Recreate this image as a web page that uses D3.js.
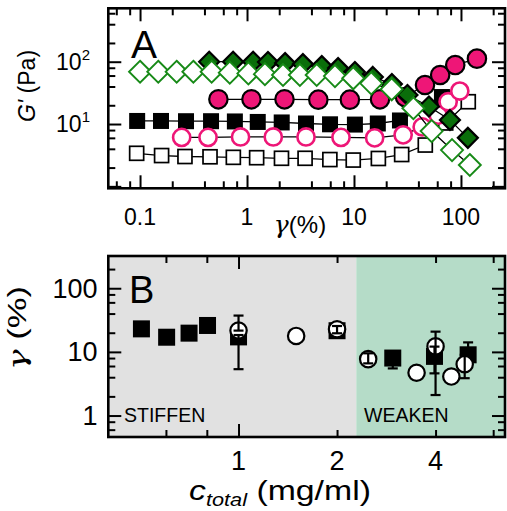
<!DOCTYPE html>
<html><head><meta charset="utf-8">
<script src="https://cdn.jsdelivr.net/npm/d3@7"></script>
<style>
html,body{margin:0;padding:0;background:#fff}
svg{display:block}
text{font-family:"Liberation Sans",Arial,Helvetica,sans-serif;fill:#000}
</style>
</head><body>
<svg id="c" width="507" height="511"></svg>
<script>
// ---------------- Panel A : G' (Pa) vs strain gamma (%) ----------------
const aOpenSqX   = [0.093,0.159,0.263,0.451,0.745,1.23,2.10,3.49,5.95,9.84,16.9,27.9,46.4,72.0,117];
const aOpenSqY   = [3.39,3.12,3.01,2.98,2.92,2.88,2.82,2.82,2.69,2.64,2.80,3.24,4.6,10.4,22.8];
const aFillSqX   = [0.094,0.157,0.269,0.461,0.77,1.26,2.11,3.56,5.97,10.2,16.7,26.9,66.4];
const aFillSqY   = [11.2,11.2,11.1,11.1,11.0,10.8,10.6,10.2,9.9,9.8,10.2,11.4,27.1];
const aOpenCirX  = [0.245,0.432,0.870,1.76,3.56,7.56,15.6,28.8,43.4,61.3,75.9,97.5];
const aOpenCirY  = [6.1,6.1,6.2,6.2,6.2,6.1,6.0,6.7,9.0,13.9,22.8,33.8];
const aFillCirX  = [0.54,1.10,2.24,4.64,9.15,17.5,30.0,46.1,63.9,88.4,141];
const aFillCirY  = [24.9,24.9,24.9,24.6,24.6,24.9,27.1,42.3,61.2,88.5,112];
const aFillDiaX  = [0.443,0.741,1.14,1.57,2.27,3.33,5.0,7.1,10.2,15.0,22.6,31.6,50.2,78.9,116];
const aFillDiaY  = [100,100,100,99,95,91.5,85,79,68.5,57,43.9,29.2,19.1,11.6,6.0];
const aOpenDiaX  = [0.1,0.148,0.220,0.315,0.467,0.69,1.03,1.47,2.17,3.12,4.48,6.64,9.84,14.5,22.5,35.9,53.2,82.5,121];
const aOpenDiaY  = [69,69,69,69,69,66.7,65,63.2,61.3,61.3,61.3,58.8,54.2,45.0,36.1,17.9,7.7,3.82,2.20];
const aXTicks    = [0.1,1,10,100];
const aXTickText = ["0.1","1","10","100"];
const aYTicks    = [10,100];
const aYTickExp  = ["1","2"];

// ---------------- Panel B : gamma (%) vs c_total (mg/ml) ----------------
const bSqC    = [0.505,0.603,0.706,0.804,1.0,2.0,2.96,3.97,5.03];
const bSqG    = [23.0,17.0,19.7,26.0,17.2,21.5,8.0,8.5,9.0];
const bSqLo   = [23.0,17.0,19.7,26.0,5.35,21.5,5.5,4.6,9.0];
const bSqHi   = [23.0,17.0,19.7,26.0,18.4,21.5,8.0,12.1,14.1];
const bCirC   = [1.0,1.50,2.0,2.49,3.5,4.0,4.47,4.91];
const bCirG   = [21.6,17.8,22.7,7.7,4.7,12.2,4.1,6.4];
const bCirLo  = [21.6,17.8,19.6,6.6,4.7,2.1,4.1,3.86];
const bCirHi  = [37.2,17.8,25.5,9.5,4.7,20.8,4.1,9.0];
const bXTicks = [1,2,4];
const bYTicks = [1,10,100];
const bBoundary = 2.29;   // stiffen / weaken transition (mg/ml)

// ---------------- layout ----------------
const svg = d3.select("#c");
const L = 108.3, R = 505;
const A = {t: 8.3, b: 188.3};
const B = {t: 256, b: 437};
const pink = "#ee1677", green = "#178a17", dgreen = "#0a6e0a";
const FS = 23, FSB = 27;

const xA = d3.scaleLog().domain([0.0505, 258]).range([L, R]);
const yA = d3.scaleLog().domain([0.93, 720]).range([A.b, A.t]);
const xB = d3.scaleLog().domain([0.40, 6.52]).range([L, R]);
const yB = d3.scaleLog().domain([0.46, 321]).range([B.b, B.t]);

function minorTicks(scale, mults) {
  const [d0, d1] = scale.domain();
  const out = [];
  for (let e = Math.floor(Math.log10(d0)); e <= Math.ceil(Math.log10(d1)); e++) {
    mults.forEach(m => { const v = m * Math.pow(10, e); if (v > d0 && v < d1) out.push(v); });
  }
  return out;
}
function decades(scale) {
  const [d0, d1] = scale.domain();
  const out = [];
  for (let e = Math.floor(Math.log10(d0)); e <= Math.ceil(Math.log10(d1)); e++) {
    const v = Math.pow(10, e); if (v > d0 && v < d1) out.push(v);
  }
  return out;
}
function frameAxes(x, y, box) {
  const g = svg.append("g");
  const maj = 13, mn = 7;
  const xMaj = decades(x), xMin = minorTicks(x, [2,4,6,8]);
  const yMaj = decades(y), yMin = minorTicks(y, [2,4,6,8]);
  const add = (axis, tr) => {
    const a = g.append("g").attr("transform", tr).call(axis);
    a.select(".domain").remove();
    a.selectAll("line").attr("stroke", "#000").attr("stroke-width", 2);
  };
  [[xMaj, maj], [xMin, mn]].forEach(([vals, s]) => {
    add(d3.axisBottom(x).tickValues(vals).tickSize(-s).tickFormat(""), `translate(0,${box.b})`);
    add(d3.axisTop(x).tickValues(vals).tickSize(-s).tickFormat(""), `translate(0,${box.t})`);
  });
  [[yMaj, maj], [yMin, mn]].forEach(([vals, s]) => {
    add(d3.axisLeft(y).tickValues(vals).tickSize(-s).tickFormat(""), `translate(${L},0)`);
    add(d3.axisRight(y).tickValues(vals).tickSize(-s).tickFormat(""), `translate(${R},0)`);
  });
  g.append("rect").attr("x", L).attr("y", box.t).attr("width", R - L).attr("height", box.b - box.t)
    .attr("fill", "none").attr("stroke", "#000").attr("stroke-width", 2.6);
}
// stretch a text element (anchored at its own origin) along its baseline to a target length
function stretchTo(t, target, base) {
  const w = t.node().getBBox().width;
  t.attr("transform", `${base} scale(${target / w},1)`);
}

// ---------------- Panel B background ----------------
svg.append("rect").attr("x", L).attr("y", B.t).attr("width", xB(bBoundary) - L).attr("height", B.b - B.t).attr("fill", "#e1e1e1");
svg.append("rect").attr("x", xB(bBoundary)).attr("y", B.t).attr("width", R - xB(bBoundary)).attr("height", B.b - B.t).attr("fill", "#b5dcc8");

// ---------------- Panel A marks ----------------
const gA = svg.append("g");
const line = (xs, ys) => d3.line().x((d, i) => xA(xs[i])).y((d, i) => yA(ys[i]))(xs);
function series(xs, ys, drawMark) {
  gA.append("path").attr("d", line(xs, ys)).attr("fill", "none").attr("stroke", "#000").attr("stroke-width", 1.3);
  xs.forEach((v, i) => drawMark(gA, xA(v), yA(ys[i])));
}
const sq = (g, cx, cy, s, fill, stroke, sw) => g.append("rect").attr("x", cx - s/2).attr("y", cy - s/2).attr("width", s).attr("height", s)
  .attr("fill", fill).attr("stroke", stroke).attr("stroke-width", sw);
const cir = (g, cx, cy, r, fill, stroke, sw) => g.append("circle").attr("cx", cx).attr("cy", cy).attr("r", r)
  .attr("fill", fill).attr("stroke", stroke).attr("stroke-width", sw);
const dia = (g, cx, cy, h, fill, stroke, sw) => g.append("path")
  .attr("d", `M${cx},${cy-h}L${cx+h},${cy}L${cx},${cy+h}L${cx-h},${cy}Z`)
  .attr("fill", fill).attr("stroke", stroke).attr("stroke-width", sw);

series(aOpenSqX, aOpenSqY, (g, x, y) => sq(g, x, y, 14, "#fff", "#000", 1.7));
series(aFillSqX, aFillSqY, (g, x, y) => sq(g, x, y, 16, "#000", "#000", 0));
series(aOpenCirX, aOpenCirY, (g, x, y) => cir(g, x, y, 8.6, "#fff", pink, 2.6));
series(aFillCirX, aFillCirY, (g, x, y) => cir(g, x, y, 9.2, pink, "#000", 2.2));
series(aFillDiaX, aFillDiaY, (g, x, y) => dia(g, x, y, 10, dgreen, "#000", 2.2));
series(aOpenDiaX, aOpenDiaY, (g, x, y) => dia(g, x, y, 11, "#fff", green, 1.9));

frameAxes(xA, yA, A);

// Panel A labels
svg.append("text").attr("x", 131).attr("y", 58).attr("font-size", 39).text("A");
aXTicks.forEach((v, i) => svg.append("text").attr("x", xA(v)).attr("y", 225).attr("text-anchor", "middle")
  .attr("font-size", FS).text(aXTickText[i]));
aYTicks.forEach((v, i) => {
  const t = svg.append("text").attr("x", 90).attr("y", yA(v) + 8.3).attr("text-anchor", "end").attr("font-size", FS);
  t.append("tspan").text("10");
  t.append("tspan").attr("font-size", 15).attr("dy", -10).text(aYTickExp[i]);
});
{
  const t = svg.append("text").attr("transform", "translate(35,86) rotate(-90)").attr("text-anchor", "middle").attr("font-size", FS);
  t.append("tspan").attr("font-style", "italic").text("G'");
  t.append("tspan").text(" (Pa)");
}
{
  const t = svg.append("text").attr("x", 300).attr("y", 233).attr("text-anchor", "middle").attr("font-size", 24);
  t.append("tspan").attr("font-style", "italic").attr("font-family", "DejaVu Serif").attr("font-size", 25).text("γ");
  t.append("tspan").text("(%)");
}

// ---------------- Panel B marks ----------------
const gB = svg.append("g");
bSqC.forEach((c, i) => sq(gB, xB(c), yB(bSqG[i]), 17, "#000", "#000", 0));
bCirC.forEach((c, i) => cir(gB, xB(c), yB(bCirG[i]), 8.2, "#fff", "#000", 2.2));
function errBars(cs, lo, hi) {
  cs.forEach((c, i) => {
    if (lo[i] === hi[i]) return;
    const x = xB(c), y0 = yB(lo[i]), y1 = yB(hi[i]);
    gB.append("line").attr("x1", x).attr("x2", x).attr("y1", y0).attr("y2", y1).attr("stroke", "#000").attr("stroke-width", 2.2);
    [y0, y1].forEach(yy => gB.append("line").attr("x1", x - 5).attr("x2", x + 5).attr("y1", yy).attr("y2", yy)
      .attr("stroke", "#000").attr("stroke-width", 2.2));
  });
}
errBars(bCirC, bCirLo, bCirHi);
errBars(bSqC, bSqLo, bSqHi);

frameAxes(xB, yB, B);

svg.append("text").attr("x", 129).attr("y", 303).attr("font-size", 38).text("B");
svg.append("text").attr("x", 124).attr("y", 421.5).attr("font-size", 19.5).attr("fill", "#111").text("STIFFEN");
svg.append("text").attr("x", 364).attr("y", 422).attr("font-size", 19.5).attr("fill", "#111").text("WEAKEN");
bXTicks.forEach(v => svg.append("text").attr("x", xB(v)).attr("y", 470).attr("text-anchor", "middle").attr("font-size", FSB).text(v));
bYTicks.forEach(v => svg.append("text").attr("x", 97.5).attr("y", yB(v) + 9.6).attr("text-anchor", "end").attr("font-size", FSB).text(v));
{
  const t = svg.append("text").attr("text-anchor", "middle").attr("font-size", 25);
  t.append("tspan").attr("font-style", "italic").attr("font-family", "DejaVu Serif").text("γ");
  t.append("tspan").text(" (%)");
  stretchTo(t, 84, "translate(26,328) rotate(-90)");
}
{
  const t = svg.append("text").attr("text-anchor", "middle").attr("font-size", 28);
  t.append("tspan").attr("font-style", "italic").text("c");
  t.append("tspan").attr("font-style", "italic").attr("font-size", 18).attr("dy", 6).text("total");
  t.append("tspan").attr("dy", -6).text(" (mg/ml)");
  stretchTo(t, 182, "translate(280,500)");
}
</script>
</body></html>
